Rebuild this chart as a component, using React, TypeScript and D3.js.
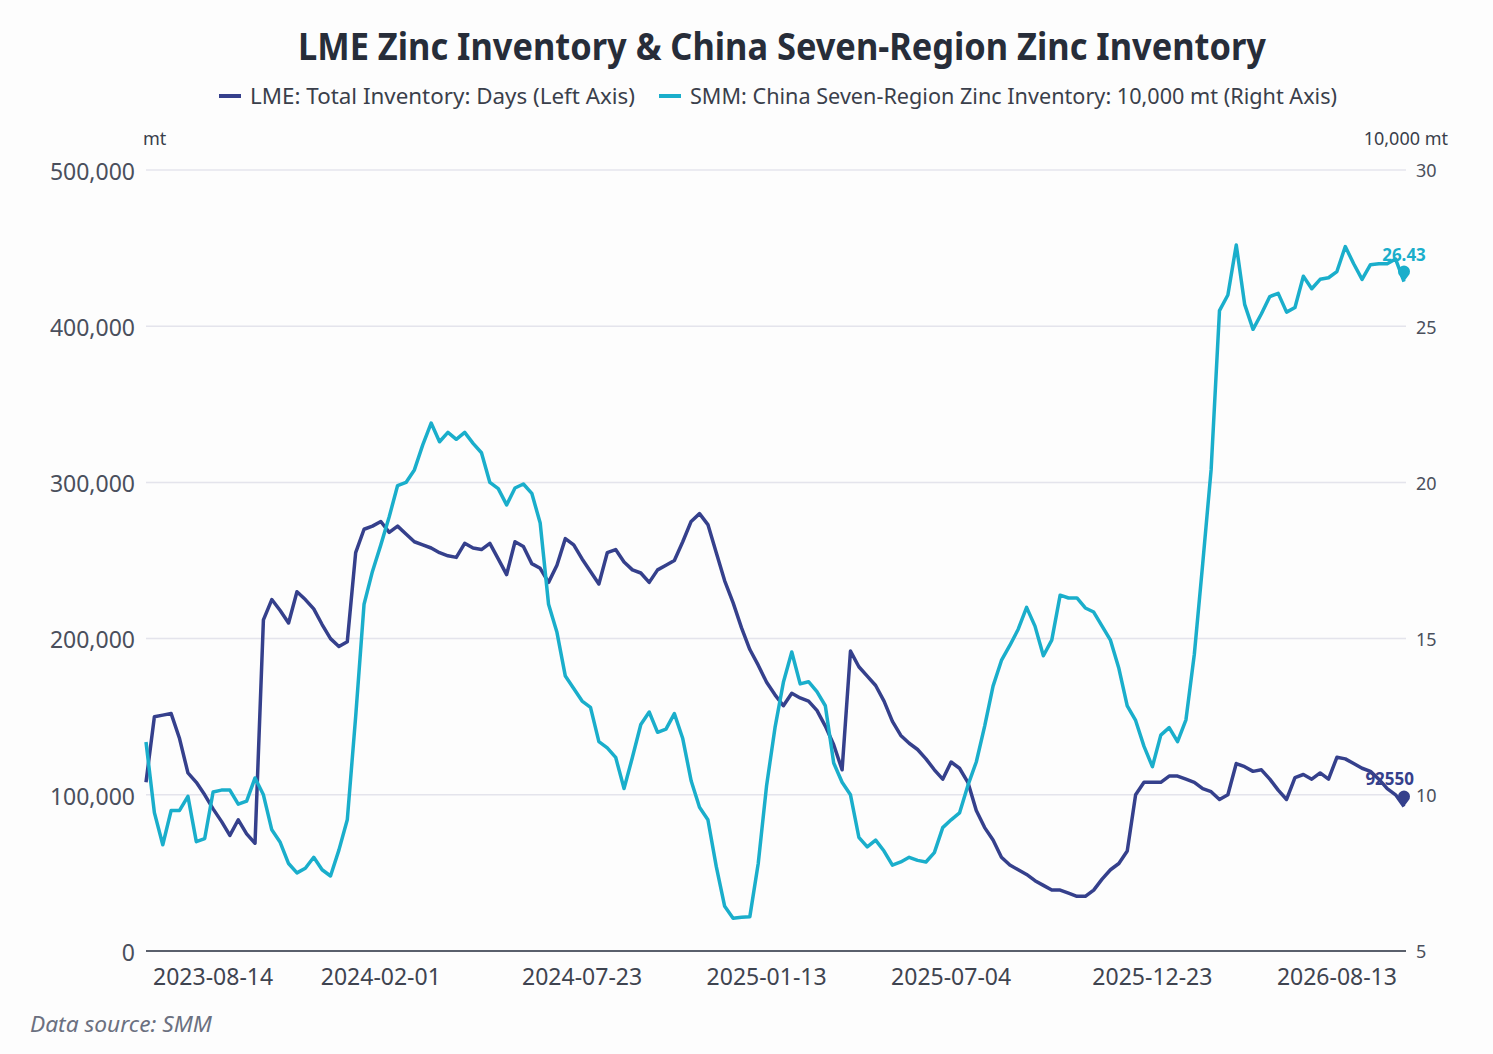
import React, { useEffect, useRef } from 'react';
import * as d3 from 'd3';

const W = 1493;
const H = 1054;

// category axis: only these dates are labelled, at these point indices
const tickLabels = ['2023-08-14', '2024-02-01', '2024-07-23', '2025-01-13', '2025-07-04', '2025-12-23', '2026-08-13'];
const tickIndex = [8, 28, 52, 74, 96, 120, 142];

// LME total inventory, mt (left axis)
const lmeInventory = [
  108000, 150000, 151000, 152000, 136000, 114000, 108000, 100000, 91000, 83000,
  74000, 84000, 75000, 69000, 212000, 225000, 218000, 210000, 230000, 225000,
  219000, 209000, 200000, 195000, 198000, 255000, 270000, 272000, 275000, 268000,
  272000, 267000, 262000, 260000, 258000, 255000, 253000, 252000, 261000, 258000,
  257000, 261000, 251000, 241000, 262000, 259000, 248000, 245000, 236000, 247000,
  264000, 260000, 251000, 243000, 235000, 255000, 257000, 249000, 244000, 242000,
  236000, 244000, 247000, 250000, 262000, 275000, 280000, 273000, 255000, 237000,
  223000, 207000, 193000, 183000, 172000, 164000, 157000, 165000, 162000, 160000,
  154000, 144000, 132000, 116000, 192000, 182000, 176000, 170000, 160000, 147000,
  138000, 133000, 129000, 123000, 116000, 110000, 121000, 117000, 108000, 90000,
  79000, 71000, 60000, 55000, 52000, 49000, 45000, 42000, 39000, 39000,
  37000, 35000, 35000, 39000, 46000, 52000, 56000, 64000, 100000, 108000,
  108000, 108000, 112000, 112000, 110000, 108000, 104000, 102000, 97000, 100000,
  120000, 118000, 115000, 116000, 110000, 103000, 97000, 111000, 113000, 110000,
  114000, 110000, 124000, 123000, 120000, 117000, 115000, 110000, 104000, 100000,
  92550,
];

// SMM China seven-region zinc inventory, 10,000 mt (right axis)
const smmInventory = [
  11.69, 9.43, 8.4, 9.5, 9.5, 9.95, 8.5, 8.6, 10.09, 10.15,
  10.15, 9.7, 9.8, 10.54, 10.0, 8.88, 8.48, 7.8, 7.5, 7.65,
  8.0, 7.6, 7.4, 8.23, 9.2, 12.5, 16.1, 17.15, 18.0, 18.9,
  19.9, 20.0, 20.4, 21.2, 21.9, 21.3, 21.6, 21.38, 21.6, 21.25,
  20.95, 20.0, 19.8, 19.28, 19.82, 19.95, 19.65, 18.7, 16.1, 15.2,
  13.8, 13.4, 13.0, 12.8, 11.7, 11.5, 11.2, 10.2, 11.2, 12.25,
  12.65, 12.0, 12.1, 12.6, 11.8, 10.45, 9.6, 9.2, 7.7, 6.43,
  6.05, 6.08, 6.1, 7.8, 10.3, 12.15, 13.6, 14.57, 13.55, 13.62,
  13.3, 12.85, 11.02, 10.4, 10.0, 8.64, 8.33, 8.55, 8.2, 7.75,
  7.85, 8.0, 7.9, 7.85, 8.15, 8.95, 9.2, 9.42, 10.3, 11.05,
  12.2, 13.48, 14.3, 14.78, 15.3, 16.0, 15.4, 14.45, 14.95, 16.39,
  16.3, 16.3, 15.98, 15.85, 15.4, 14.95, 14.05, 12.85, 12.38, 11.55,
  10.9, 11.91, 12.15, 11.7, 12.4, 14.5, 17.4, 20.4, 25.5, 26.0,
  27.6, 25.7, 24.9, 25.4, 25.95, 26.05, 25.45, 25.6, 26.6, 26.2,
  26.5, 26.55, 26.75, 27.55, 27.0, 26.5, 26.97, 27.0, 27.0, 27.15,
  26.43,
];

const leftTicks = [0, 100000, 200000, 300000, 400000, 500000];
const rightTicks = [5, 10, 15, 20, 25, 30];

const LME_COLOR = '#35408c';
const SMM_COLOR = '#1aaecb';
const FONT = '"Noto Sans", "Open Sans", sans-serif';

const App: React.FC = () => {
  const svgRef = useRef<SVGSVGElement>(null);

  useEffect(() => {
    document.body.style.margin = '0';
    if (!svgRef.current) return;
    const svg = d3.select(svgRef.current);
    svg.selectAll('*').remove();

    const left = 146;
    const right = 1406;
    const top = 170;
    const bottom = 951;

    const x = d3.scaleLinear().domain([0, lmeInventory.length - 1]).range([left, 1404]);
    const yL = d3.scaleLinear().domain([0, 500000]).range([bottom, top]);
    const yR = d3.scaleLinear().domain([5, 30]).range([bottom, top]);

    svg.append('rect').attr('width', W).attr('height', H).attr('fill', '#fdfdfd');

    // title
    svg.append('text')
      .attr('x', 782).attr('y', 60)
      .attr('text-anchor', 'middle')
      .attr('font-family', FONT).attr('font-weight', 700).attr('font-size', 37)
      .attr('fill', '#272d39')
      .attr('textLength', 968).attr('lengthAdjust', 'spacingAndGlyphs')
      .text('LME Zinc Inventory & China Seven-Region Zinc Inventory');

    // legend
    const legend = [
      { label: 'LME: Total Inventory: Days (Left Axis)', color: LME_COLOR, x: 219, w: 385 },
      { label: 'SMM: China Seven-Region Zinc Inventory: 10,000 mt (Right Axis)', color: SMM_COLOR, x: 659, w: 647 },
    ];
    legend.forEach((l) => {
      svg.append('line')
        .attr('x1', l.x).attr('x2', l.x + 22).attr('y1', 96).attr('y2', 96)
        .attr('stroke', l.color).attr('stroke-width', 4);
      svg.append('text')
        .attr('x', l.x + 31).attr('y', 104)
        .attr('font-family', FONT).attr('font-size', 22).attr('fill', '#3a3f4b')
        .attr('textLength', l.w).attr('lengthAdjust', 'spacingAndGlyphs')
        .text(l.label);
    });

    // unit labels
    svg.append('text').attr('x', 143).attr('y', 145)
      .attr('font-family', FONT).attr('font-size', 18).attr('fill', '#3a3f4b').text('mt');
    svg.append('text').attr('x', 1448).attr('y', 145).attr('text-anchor', 'end')
      .attr('font-family', FONT).attr('font-size', 18).attr('fill', '#3a3f4b').text('10,000 mt');

    // grid
    svg.append('g').selectAll('line')
      .data(leftTicks.filter((d) => d > 0))
      .join('line')
      .attr('x1', left).attr('x2', right)
      .attr('y1', (d) => yL(d)).attr('y2', (d) => yL(d))
      .attr('stroke', '#e4e4ec').attr('stroke-width', 1.5);

    // left axis
    const gL = svg.append('g').attr('transform', `translate(${left},0)`)
      .call(d3.axisLeft(yL).tickValues(leftTicks).tickSize(0).tickPadding(11).tickFormat((d) => d3.format(',')(d as number)));
    gL.select('.domain').remove();
    gL.selectAll('text')
      .attr('font-family', FONT).attr('font-size', 23).attr('fill', '#4a4f5c').attr('dy', '0.4em');

    // right axis
    const gR = svg.append('g').attr('transform', `translate(${right},0)`)
      .call(d3.axisRight(yR).tickValues(rightTicks).tickSize(0).tickPadding(10));
    gR.select('.domain').remove();
    gR.selectAll('text')
      .attr('font-family', FONT).attr('font-size', 18).attr('fill', '#4a4f5c').attr('dy', '0.38em');

    // x axis
    svg.append('line')
      .attr('x1', left).attr('x2', right).attr('y1', bottom).attr('y2', bottom)
      .attr('stroke', '#5a606c').attr('stroke-width', 2);
    svg.append('g').selectAll('text')
      .data(tickIndex)
      .join('text')
      .attr('x', (d) => x(d)).attr('y', 985)
      .attr('text-anchor', 'middle')
      .attr('font-family', FONT).attr('font-size', 23).attr('fill', '#3f4450')
      .text((_, i) => tickLabels[i]);

    // lines
    const lmeLine = d3.line<number>().x((_, i) => x(i)).y((d) => yL(d));
    const smmLine = d3.line<number>().x((_, i) => x(i)).y((d) => yR(d));

    svg.append('path').datum(lmeInventory)
      .attr('fill', 'none').attr('stroke', LME_COLOR).attr('stroke-width', 3.5)
      .attr('stroke-linejoin', 'round').attr('d', lmeLine);
    svg.append('path').datum(smmInventory)
      .attr('fill', 'none').attr('stroke', SMM_COLOR).attr('stroke-width', 3.5)
      .attr('stroke-linejoin', 'round').attr('d', smmLine);

    // end pins + labels (LME label nudged left so it clears the "10" tick)
    const pin = 'M0,0 L-4.5,-6 A6,6 0 1 1 4.5,-6 Z';
    const lastI = lmeInventory.length - 1;
    const ends = [
      { px: x(lastI), py: yL(lmeInventory[lastI]), color: LME_COLOR, label: String(lmeInventory[lastI]), anchor: 'end', dx: 10 },
      { px: x(lastI), py: yR(smmInventory[lastI]), color: SMM_COLOR, label: smmInventory[lastI].toFixed(2), anchor: 'middle', dx: 0 },
    ];
    ends.forEach((e) => {
      svg.append('path').attr('d', pin)
        .attr('transform', `translate(${e.px},${e.py})`)
        .attr('fill', e.color);
      svg.append('text')
        .attr('x', e.px + e.dx).attr('y', e.py - 21)
        .attr('text-anchor', e.anchor)
        .attr('font-family', FONT).attr('font-weight', 700).attr('font-size', 17)
        .attr('fill', e.color)
        .text(e.label);
    });

    // footnote
    svg.append('text')
      .attr('x', 30).attr('y', 1032)
      .attr('font-family', FONT).attr('font-style', 'italic').attr('font-size', 21)
      .attr('fill', '#6b7080')
      .attr('textLength', 182).attr('lengthAdjust', 'spacingAndGlyphs')
      .text('Data source: SMM');
  }, []);

  return <svg ref={svgRef} width={W} height={H} style={{ display: 'block' }} />;
};

export default App;
